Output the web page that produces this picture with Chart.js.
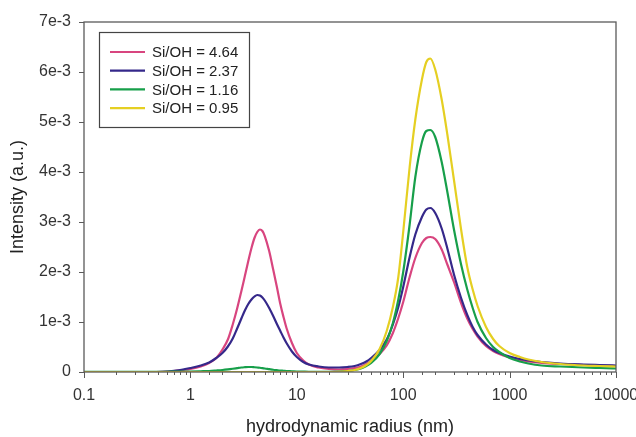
<!DOCTYPE html>
<html>
<head>
<meta charset="utf-8">
<script src="https://cdn.jsdelivr.net/npm/chart.js@4.4.1/dist/chart.umd.min.js"></script>
<style>
  html, body { margin: 0; padding: 0; background: #fff; }
  canvas { display: block; }
</style>
</head>
<body>
<canvas id="myChart" width="636" height="437"></canvas>
<script>
// hydrodynamic radius (nm), shared by all four curves
const radius = [0.1, 0.2, 0.4, 0.55, 0.7, 0.85, 1, 1.25, 1.5, 1.75, 2, 2.25, 2.5, 2.75, 3, 3.25, 3.5, 3.75, 4, 4.25, 4.5, 4.75, 5, 5.5, 6, 6.5, 7, 7.5, 8, 9, 10, 11.5, 13, 16, 20, 25, 30, 35, 40, 45, 50, 60, 70, 80, 90, 100, 115, 130, 150, 165, 180, 200, 230, 260, 300, 350, 400, 450, 500, 600, 700, 800, 1000, 1250, 1500, 2000, 3000, 5000, 7000, 10000];

// intensity in units of 1e-3
const si464 = [0, 0, 0, 0.005, 0.02, 0.04, 0.06, 0.11, 0.18, 0.28, 0.45, 0.65, 0.95, 1.27, 1.6, 1.92, 2.22, 2.48, 2.68, 2.8, 2.85, 2.82, 2.72, 2.42, 2.05, 1.7, 1.36, 1.1, 0.88, 0.58, 0.38, 0.23, 0.15, 0.09, 0.06, 0.05, 0.06, 0.08, 0.11, 0.16, 0.22, 0.36, 0.53, 0.78, 1.08, 1.4, 1.9, 2.28, 2.58, 2.68, 2.7, 2.66, 2.45, 2.15, 1.8, 1.38, 1.07, 0.86, 0.71, 0.52, 0.42, 0.36, 0.29, 0.24, 0.21, 0.18, 0.16, 0.14, 0.13, 0.12];
const si237 = [0, 0, 0, 0.005, 0.025, 0.05, 0.08, 0.13, 0.19, 0.28, 0.38, 0.51, 0.67, 0.87, 1.06, 1.23, 1.36, 1.45, 1.51, 1.54, 1.53, 1.49, 1.43, 1.28, 1.12, 0.96, 0.82, 0.69, 0.58, 0.41, 0.3, 0.2, 0.15, 0.11, 0.09, 0.09, 0.1, 0.12, 0.16, 0.21, 0.28, 0.44, 0.65, 0.95, 1.3, 1.7, 2.3, 2.75, 3.1, 3.25, 3.28, 3.18, 2.87, 2.47, 1.95, 1.48, 1.14, 0.9, 0.74, 0.55, 0.44, 0.38, 0.31, 0.26, 0.23, 0.2, 0.17, 0.15, 0.14, 0.13];
const si116 = [0.005, 0.005, 0.005, 0.005, 0.007, 0.009, 0.01, 0.015, 0.02, 0.03, 0.04, 0.052, 0.065, 0.078, 0.09, 0.096, 0.1, 0.1, 0.095, 0.09, 0.085, 0.078, 0.07, 0.057, 0.045, 0.037, 0.03, 0.025, 0.02, 0.015, 0.01, 0.007, 0.005, 0.005, 0.005, 0.008, 0.02, 0.04, 0.07, 0.12, 0.18, 0.36, 0.62, 0.98, 1.45, 2.0, 2.95, 3.9, 4.6, 4.82, 4.84, 4.7, 4.2, 3.6, 2.85, 2.15, 1.65, 1.28, 1.0, 0.68, 0.5, 0.4, 0.28, 0.21, 0.17, 0.13, 0.11, 0.09, 0.08, 0.07];
const si095 = [0, 0, 0, 0, 0, 0, 0, 0, 0, 0, 0, 0, 0, 0, 0, 0, 0, 0, 0, 0, 0, 0, 0, 0, 0, 0, 0, 0, 0, 0, 0, 0, 0, 0, 0, 0.005, 0.02, 0.04, 0.08, 0.14, 0.22, 0.46, 0.82, 1.3, 1.9, 2.8, 4.1, 5.05, 5.85, 6.2, 6.27, 6.05, 5.45, 4.75, 3.84, 2.85, 2.1, 1.65, 1.32, 0.9, 0.66, 0.52, 0.38, 0.3, 0.25, 0.2, 0.16, 0.13, 0.12, 0.11];

const seriesLabels = ["Si/OH = 4.64", "Si/OH = 2.37", "Si/OH = 1.16", "Si/OH = 0.95"];
const seriesValues = [si464, si237, si116, si095];
const seriesColors = ["#d8457f", "#35288a", "#179f4a", "#e5cf22"];

const xDecades = [0.1, 1, 10, 100, 1000, 10000];
const yTickValues = [0, 1, 2, 3, 4, 5, 6, 7];

const axisColor = "#5a5a5a";
const textColor = "#333";
const fontFamily = "'Liberation Sans', Arial, sans-serif";

function isDecade(value) {
  return xDecades.some((d) => Math.abs(Math.log10(d) - Math.log10(value)) < 1e-6);
}

// tick marks, frame and legend box drawn on top of the library's scales
const framePlugin = {
  id: "frame",
  afterDraw(chart) {
    const ctx = chart.ctx;
    const area = chart.chartArea;
    const xs = chart.scales.x;
    const ys = chart.scales.y;
    ctx.save();
    ctx.strokeStyle = axisColor;
    ctx.lineWidth = 1.3;
    ctx.strokeRect(area.left, area.top, area.right - area.left, area.bottom - area.top);

    ctx.lineWidth = 1;
    ctx.beginPath();
    xs.ticks.forEach((t) => {
      const px = Math.round(xs.getPixelForValue(t.value)) + 0.5;
      ctx.moveTo(px, area.bottom);
      ctx.lineTo(px, area.bottom + (isDecade(t.value) ? 6 : 3));
    });
    ys.ticks.forEach((t) => {
      const py = Math.round(ys.getPixelForValue(t.value)) + 0.5;
      ctx.moveTo(area.left, py);
      ctx.lineTo(area.left - 5, py);
    });
    ctx.stroke();

    // legend
    const boxX = 99.5, boxY = 32.5, boxW = 150, boxH = 95;
    ctx.lineWidth = 1.2;
    ctx.strokeStyle = "#444";
    ctx.strokeRect(boxX, boxY, boxW, boxH);
    ctx.font = "15px " + fontFamily;
    ctx.textBaseline = "middle";
    ctx.fillStyle = "#222";
    chart.data.datasets.forEach((ds, i) => {
      const rowY = 52 + i * 18.7;
      ctx.strokeStyle = ds.borderColor;
      ctx.lineWidth = 2.2;
      ctx.beginPath();
      ctx.moveTo(110, rowY);
      ctx.lineTo(145, rowY);
      ctx.stroke();
      ctx.fillText(ds.label, 152, rowY + 1);
    });
    ctx.restore();
  },
};

const datasets = seriesLabels.map((label, i) => ({
  label: label,
  data: radius.map((r, j) => ({ x: r, y: seriesValues[i][j] / 1000 })),
  borderColor: seriesColors[i],
  backgroundColor: seriesColors[i],
  borderWidth: 2.2,
  pointRadius: 0,
  cubicInterpolationMode: "monotone",
  fill: false,
  order: 3 - i,
}));

const chartContext = document.getElementById("myChart").getContext("2d");

const chart = new Chart(chartContext, {
  type: "line",
  data: { datasets: datasets },
  options: {
    responsive: false,
    animation: false,
    layout: { padding: { top: 22, right: 20, left: 0, bottom: 0 } },
    plugins: {
      legend: { display: false },
      tooltip: { enabled: false },
    },
    scales: {
      x: {
        type: "logarithmic",
        min: 0.1,
        max: 10000,
        grid: { display: false, drawTicks: false },
        border: { display: false },
        ticks: {
          autoSkip: false,
          maxRotation: 0,
          padding: 14,
          color: textColor,
          font: { family: fontFamily, size: 16 },
          callback: function (value) {
            return isDecade(value) ? String(value) : "";
          },
        },
        title: {
          display: true,
          text: "hydrodynamic radius (nm)",
          color: "#222",
          padding: { top: 0, bottom: 1 },
          font: { family: fontFamily, size: 18, lineHeight: 1 },
        },
        afterFit: (scale) => {
          scale.height = 65;
          scale.paddingLeft = 0;
          scale.paddingRight = 0;
        },
      },
      y: {
        min: 0,
        max: 0.007,
        grid: { display: false, drawTicks: false },
        border: { display: false },
        afterBuildTicks: (scale) => {
          scale.ticks = yTickValues.map((v) => ({ value: v / 1000 }));
        },
        ticks: {
          padding: 13,
          color: textColor,
          font: { family: fontFamily, size: 16 },
          callback: function (value) {
            const k = Math.round(value * 1000);
            return k === 0 ? "0" : k + "e-3";
          },
        },
        title: {
          display: true,
          text: "Intensity (a.u.)",
          color: "#222",
          padding: { top: 9, bottom: 0 },
          font: { family: fontFamily, size: 18, lineHeight: 1 },
        },
        afterFit: (scale) => {
          scale.width = 84;
          scale.paddingTop = 0;
          scale.paddingBottom = 0;
        },
      },
    },
  },
  plugins: [framePlugin],
});
</script>
</body>
</html>
